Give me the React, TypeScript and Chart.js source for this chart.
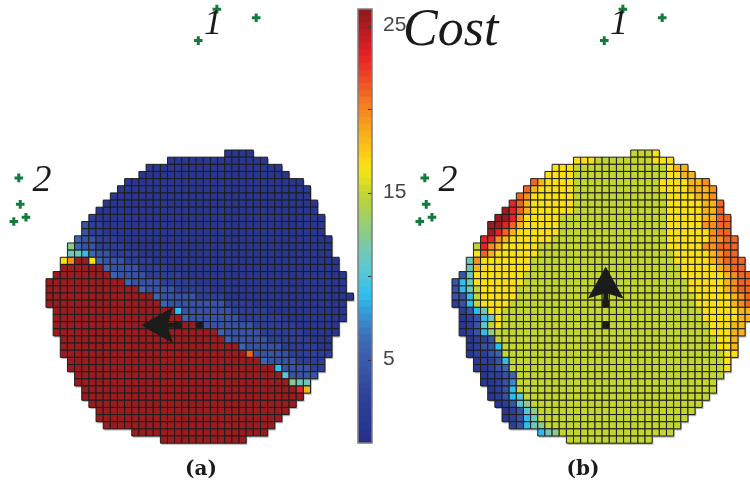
import { useEffect, useRef } from 'react';
import { Chart, registerables } from 'chart.js';

Chart.register(...registerables);

// Cost level codes used in the grid rows below.
const LEVELS: Record<string, number> = {
  a: 1.0, b: 2.6, c: 4.2, d: 5.8, e: 7.2, f: 8.8, g: 10.2, h: 11.2,
  i: 12.6, j: 15.0, k: 16.6, l: 18.3, m: 19.6, n: 21.0, o: 23.2, p: 25.4,
};

// Each row: first column index, then runs of <level><count>.
const COST_A_ROWS = [
  '25 a4',
  '17 a14',
  '14 a19',
  '13 a21',
  '11 a25',
  '10 a27',
  '9 a28',
  '8 a30',
  '7 a31',
  '6 b1 a32',
  '5 c1 b2 a31',
  '5 c1 b2 a31',
  '4 d1 c2 b3 a30',
  '3 i1 d1 c2 b4 a29',
  '3 h2 f1 d1 c2 b4 a27',
  '2 k1 m1 p2 k1 d1 c3 b4 a26',
  '2 p6 d1 c4 b4 a24',
  '1 p8 d1 c4 b5 a23',
  '0 p11 d1 c4 b5 a21',
  '0 p13 d1 c4 b5 a19',
  '0 p15 d1 c5 b4 a18',
  '0 p16 d1 c8 b4 a13',
  '1 p17 f1 c7 b5 a11',
  '1 p18 d1 c7 b6 a9',
  '1 p20 c8 b6 a6',
  '1 p23 d1 c5 b6 a5',
  '2 p23 d1 c5 b6 a3',
  '2 p25 d1 c5 b5 a2',
  '2 p26 n1 c5 b6',
  '3 p27 d1 c4 b4',
  '3 p29 f1 c4 b2',
  '4 p29 g1 c4',
  '4 p30 i1 h2',
  '5 p30 o1 l1',
  '5 p31',
  '6 p29',
  '7 p27',
  '7 p26',
  '8 p24',
  '12 p19',
  '16 p12',
];

const COST_B_ROWS = [
  '25 j3 k1',
  '17 k3 j8 k3',
  '14 k3 j13 k1 l2',
  '13 k4 j13 k2 l2',
  '11 n1 l1 k4 j12 k4 l2 m1',
  '10 n1 l1 k5 j12 k4 l3 m1',
  '9 n1 m1 k6 j13 k4 l2 m1',
  '8 o1 n1 l1 k6 j13 k5 l2 n1',
  '7 p1 o1 n1 l1 k6 j13 k5 l2 n1',
  '6 p2 o1 m1 k5 j15 k5 l2 n2',
  '5 p2 o1 n1 l1 k5 j15 k5 m2 n2',
  '5 p1 o1 n1 l1 k6 j15 k6 m1 n2',
  '4 o2 m1 l1 k6 j16 k6 m2 n2',
  '3 j1 o1 m1 l1 k5 j18 k5 m2 n3',
  '3 k1 n1 l1 k6 j19 k5 l1 m1 n2',
  '2 h1 m1 k7 j20 k5 l1 m1 n3',
  '2 h1 l1 k7 j21 k5 l1 m1 n2',
  '1 c1 h1 k7 j22 k6 l1 m1 n2',
  '0 c1 f1 h1 k7 j23 k5 l1 m1 n2',
  '0 c1 f1 h1 j1 k5 j24 k5 l1 m1 n2',
  '0 c2 f1 j1 k5 j25 k5 l1 m1 n2',
  '0 b1 c1 f1 j1 k4 j26 k5 l1 m1 n1',
  '1 b1 c1 f1 h1 k2 j28 k5 l2',
  '1 a1 b1 c1 f1 h1 k1 j28 k5 l2',
  '1 a1 b1 c1 g1 j1 k1 j29 k3 l2',
  '1 a1 b1 c1 f1 i1 j30 k3 l2',
  '2 a1 b2 c1 j31 k2 l1',
  '2 a1 b1 c2 f1 j30 k2 l1',
  '2 a1 b2 c1 d1 j31 k2',
  '3 a1 b2 c1 f1 j30 k1',
  '3 a2 b1 c1 d1 j30 k1',
  '4 a1 b2 c1 d1 j29',
  '4 a2 b1 c1 e1 j28',
  '5 a1 b1 c1 f1 j28',
  '5 a1 b1 c1 f1 g1 j26',
  '6 a1 b1 c1 g1 i1 j24',
  '7 a1 b1 c1 g1 i1 j22',
  '7 a1 b1 c1 f1 h1 j21',
  '8 b1 c1 f1 h1 i1 j19',
  '12 f1 h1 i1 j16',
  '16 j12',
];

// Landmark positions (grid units, shared by both maps).
const BEACON_COLS = [23.4, 28.9, 20.8, -4.3, -4.1, -3.3, -5.0];
const BEACON_ROWS = [-20.2, -19.0, -15.8, 3.4, 7.1, 8.9, 9.5];

// Robot cell and heading (col step, row step) for each map.
const ROBOT_COL = 21;
const ROBOT_ROW = 24;
const HEADING_A: [number, number] = [-1, 0];
const HEADING_B: [number, number] = [0, -1];

// Colour bar range and ticks.
const COLORBAR_MIN = 0;
const COLORBAR_MAX = 26;
const COLORBAR_LABELS = [5, 15, 25];
const COLORBAR_MARKS = [5, 10, 15, 20, 25];
const COLORBAR_STEPS = 64;

// View window in grid units and the horizontal offset of map (b).
const VIEW_X = [-6.93, 97.96];
const VIEW_Y = [-21.48, 45.65];
const MAP_B_SHIFT = 56.78;

const CMAP: [number, string][] = [
  [0, '#262e85'], [1, '#2a3792'], [2.6, '#2e3f99'], [4.2, '#3853a6'], [5.8, '#3d64b3'],
  [7.2, '#3a86cc'], [8.8, '#2ebeee'], [10.2, '#58c7d6'], [11.2, '#6cc8bb'], [12.6, '#8dcb8a'],
  [14, '#aed14f'], [15, '#c4d531'], [15.9, '#e8e21d'], [16.6, '#fbe015'], [17.5, '#fbc617'],
  [18.3, '#f9b41a'], [19.6, '#f68f1e'], [21, '#f16522'], [22.2, '#eb3c25'], [23.2, '#e62228'],
  [24.3, '#c01e24'], [25.4, '#9c1b1f'], [26, '#8c1a1c'],
];

function hexToRgb(h: string) {
  const n = parseInt(h.slice(1), 16);
  return [(n >> 16) & 255, (n >> 8) & 255, n & 255];
}

function colormap(v: number) {
  if (v <= CMAP[0][0]) return CMAP[0][1];
  for (let i = 1; i < CMAP.length; i++) {
    const [v1, c1] = CMAP[i];
    if (v <= v1) {
      const [v0, c0] = CMAP[i - 1];
      const t = (v - v0) / (v1 - v0);
      const a = hexToRgb(c0);
      const b = hexToRgb(c1);
      const m = a.map((x, k) => Math.round(x + (b[k] - x) * t));
      return `rgb(${m[0]},${m[1]},${m[2]})`;
    }
  }
  return CMAP[CMAP.length - 1][1];
}

type Cell = { col: number; row: number; v: number };

function parseRows(rows: string[]): Cell[] {
  const cells: Cell[] = [];
  rows.forEach((line, row) => {
    const [start, ...runs] = line.split(' ');
    let col = Number(start);
    for (const run of runs) {
      const v = LEVELS[run[0]];
      const n = Number(run.slice(1));
      for (let i = 0; i < n; i++) cells.push({ col: col++, row, v });
    }
  });
  return cells;
}

function unitPx(chart: Chart) {
  const s = chart.scales.x;
  return Math.abs(s.getPixelForValue(1) - s.getPixelForValue(0));
}

function cellDataset(cells: Cell[], shift: number) {
  return {
    data: cells.map((c) => ({ x: c.col + shift, y: c.row })),
    backgroundColor: cells.map((c) => colormap(c.v)),
    borderColor: '#1d1d1d',
    borderWidth: 1,
    pointStyle: 'rect' as const,
    pointRadius: (ctx: any) => unitPx(ctx.chart) / Math.SQRT2,
    order: 3,
    isCostMap: true,
  };
}

const ANNOTATIONS = [
  { text: '1', x: 22.86, y: -16.72, font: 'italic 36px "Liberation Serif"', align: 'center' },
  { text: '2', x: -1.06, y: 5.19, font: 'italic 38px "Liberation Serif"', align: 'center' },
  { text: '1', x: 22.86 + MAP_B_SHIFT, y: -16.72, font: 'italic 36px "Liberation Serif"', align: 'center' },
  { text: '2', x: -1.06 + MAP_B_SHIFT, y: 5.19, font: 'italic 38px "Liberation Serif"', align: 'center' },
  { text: 'Cost', x: 49.43, y: -15.19, font: 'italic 52px "Liberation Serif"', align: 'left' },
  { text: '(a)', x: 21.18, y: 44.9, font: 'bold 20px "DejaVu Serif"', align: 'center' },
  { text: '(b)', x: 74.6, y: 44.9, font: 'bold 20px "DejaVu Serif"', align: 'center' },
];

const overlayPlugin = {
  id: 'mapOverlay',
  beforeDatasetsDraw(chart: Chart) {
    // soft grey rim below/right of each map
    const { ctx } = chart;
    const u = unitPx(chart);
    ctx.save();
    ctx.fillStyle = 'rgba(120,120,120,0.55)';
    chart.data.datasets.forEach((ds: any, i) => {
      if (!ds.isCostMap) return;
      for (const el of chart.getDatasetMeta(i).data as any[]) {
        ctx.fillRect(el.x - u / 2 + 1.2, el.y - u / 2 + 1.6, u, u);
      }
    });
    ctx.restore();
  },
  afterDatasetsDraw(chart: Chart) {
    const { ctx } = chart;
    const xs = chart.scales.x;
    const ys = chart.scales.y;
    const u = unitPx(chart);
    ctx.save();
    // heading arrows
    const arrows: [number, [number, number]][] = [[0, HEADING_A], [MAP_B_SHIFT, HEADING_B]];
    for (const [shift, [dx, dy]] of arrows) {
      const cx = xs.getPixelForValue(ROBOT_COL + shift);
      const cy = ys.getPixelForValue(ROBOT_ROW);
      const pt = (ahead: number, side: number): [number, number] => [
        cx + (dx * ahead - dy * side) * u,
        cy + (dy * ahead + dx * side) * u,
      ];
      ctx.fillStyle = '#1b1b1b';
      const shaft = [pt(3, 0.34), pt(4.7, 0.34), pt(4.7, -0.34), pt(3, -0.34)];
      ctx.beginPath();
      shaft.forEach(([x, y], i) => (i ? ctx.lineTo(x, y) : ctx.moveTo(x, y)));
      ctx.closePath();
      ctx.fill();
      const head = [pt(8.2, 0), pt(3.75, 2.5), pt(4.5, 0), pt(3.75, -2.5)];
      ctx.beginPath();
      head.forEach(([x, y], i) => (i ? ctx.lineTo(x, y) : ctx.moveTo(x, y)));
      ctx.closePath();
      ctx.fill();
    }
    // labels
    ctx.fillStyle = '#1a1a1a';
    ctx.textBaseline = 'alphabetic';
    for (const a of ANNOTATIONS) {
      ctx.font = a.font;
      ctx.textAlign = a.align as CanvasTextAlign;
      ctx.fillText(a.text, xs.getPixelForValue(a.x), ys.getPixelForValue(a.y));
    }
    ctx.restore();
  },
};

const colorbarFrame = {
  id: 'colorbarFrame',
  afterDatasetsDraw(chart: Chart) {
    const { ctx, chartArea: a } = chart;
    const ys = chart.scales.y;
    ctx.save();
    ctx.strokeStyle = '#3a3a3a';
    ctx.lineWidth = 1;
    for (const v of COLORBAR_MARKS) {
      const y = Math.round(ys.getPixelForValue(v)) + 0.5;
      ctx.beginPath();
      ctx.moveTo(a.right - 4, y);
      ctx.lineTo(a.right, y);
      ctx.stroke();
    }
    ctx.strokeStyle = '#7d7d7d';
    ctx.lineWidth = 1.5;
    ctx.strokeRect(a.left, a.top, a.right - a.left, a.bottom - a.top);
    ctx.restore();
  },
};

export default function App() {
  const mapRef = useRef<HTMLCanvasElement>(null);
  const barRef = useRef<HTMLCanvasElement>(null);

  useEffect(() => {
    const cellsA = parseRows(COST_A_ROWS);
    const cellsB = parseRows(COST_B_ROWS);
    const beacons = (shift: number) =>
      BEACON_COLS.map((c, i) => ({ x: c + shift, y: BEACON_ROWS[i] }));
    const robotCells = [
      { x: ROBOT_COL, y: ROBOT_ROW },
      { x: ROBOT_COL + 3 * HEADING_A[0], y: ROBOT_ROW + 3 * HEADING_A[1] },
      { x: ROBOT_COL + MAP_B_SHIFT, y: ROBOT_ROW },
      { x: ROBOT_COL + MAP_B_SHIFT + 3 * HEADING_B[0], y: ROBOT_ROW + 3 * HEADING_B[1] },
    ];

    const map = new Chart(mapRef.current!, {
      type: 'scatter',
      data: {
        datasets: [
          {
            data: [...beacons(0), ...beacons(MAP_B_SHIFT)],
            pointStyle: 'cross',
            pointRadius: 4.3,
            borderWidth: 3,
            borderColor: '#0f7c3e',
            backgroundColor: '#0f7c3e',
            order: 0,
          },
          {
            data: robotCells,
            pointStyle: 'rect',
            pointRadius: (ctx: any) => (unitPx(ctx.chart) * 0.95) / Math.SQRT2,
            backgroundColor: '#1b1b1b',
            borderWidth: 0,
            order: 1,
          },
          cellDataset(cellsA, 0),
          cellDataset(cellsB, MAP_B_SHIFT),
        ] as any,
      },
      options: {
        responsive: false,
        animation: false,
        events: [],
        layout: { padding: 0, autoPadding: false },
        plugins: { legend: { display: false }, tooltip: { enabled: false } },
        scales: {
          x: { type: 'linear', display: false, min: VIEW_X[0], max: VIEW_X[1] },
          y: { type: 'linear', display: false, reverse: true, min: VIEW_Y[0], max: VIEW_Y[1] },
        },
      },
      plugins: [overlayPlugin],
    });

    const step = (COLORBAR_MAX - COLORBAR_MIN) / COLORBAR_STEPS;
    const barSets = Array.from({ length: COLORBAR_STEPS }, (_, i) => {
      const lo = COLORBAR_MIN + i * step;
      return {
        data: [[lo, Math.min(COLORBAR_MAX, lo + step * 1.02)]],
        backgroundColor: colormap(lo + step / 2),
        borderWidth: 0,
        grouped: false,
        barPercentage: 1,
        categoryPercentage: 1,
      };
    });

    const bar = new Chart(barRef.current!, {
      type: 'bar',
      data: { labels: ['cost'], datasets: barSets as any },
      options: {
        responsive: false,
        animation: false,
        events: [],
        layout: { padding: { top: 19, bottom: 27, left: 8, right: 0 } },
        plugins: { legend: { display: false }, tooltip: { enabled: false } },
        scales: {
          x: { type: 'category', display: false },
          y: {
            type: 'linear',
            position: 'right',
            min: COLORBAR_MIN,
            max: COLORBAR_MAX,
            afterBuildTicks: (s: any) => {
              s.ticks = COLORBAR_LABELS.map((v) => ({ value: v }));
            },
            afterFit: (s: any) => {
              s.width = 48;
            },
            ticks: { padding: 3, color: '#454545', font: { family: 'Liberation Sans', size: 21 } },
            grid: { display: false },
            border: { display: false },
          },
        },
      },
      plugins: [colorbarFrame],
    });

    return () => {
      map.destroy();
      bar.destroy();
    };
  }, []);

  return (
    <div style={{ position: 'absolute', left: 0, top: 0, width: 750, height: 480, background: '#fff', overflow: 'hidden' }}>
      <canvas ref={mapRef} width={750} height={480} style={{ position: 'absolute', left: 0, top: 0 }} />
      <canvas ref={barRef} width={70} height={480} style={{ position: 'absolute', left: 350, top: -10 }} />
    </div>
  );
}
